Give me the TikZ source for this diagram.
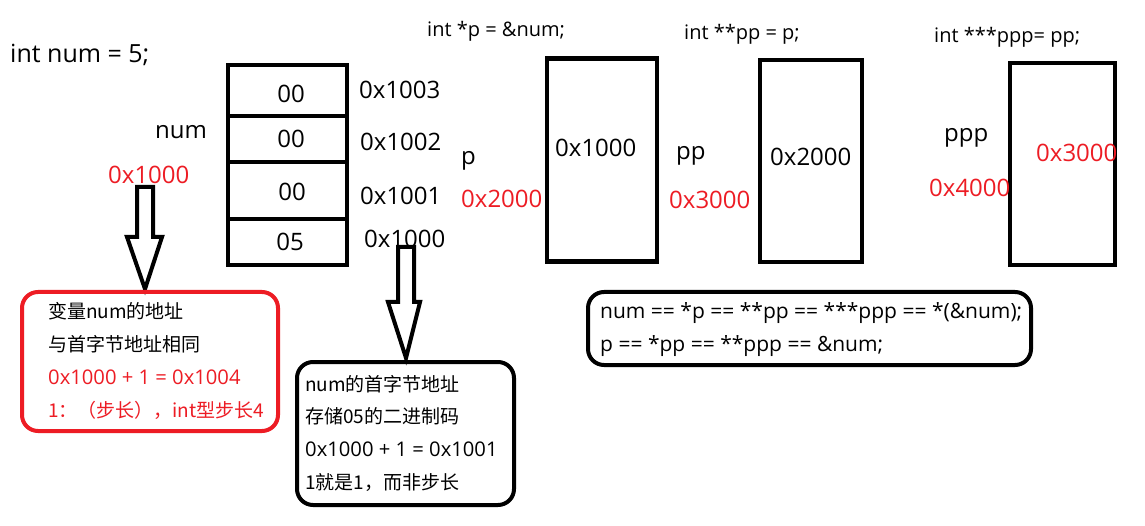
\documentclass[tikz,border=0pt]{standalone}
\usepackage{fontspec}
\setmainfont{Open Sans}
\newfontfamily\cjk{Noto Sans CJK SC}
\definecolor{pred}{RGB}{237,28,36}
\begin{document}
\begin{tikzpicture}[x=1pt,y=-1pt,
  big/.style={inner sep=0pt,anchor=west,font=\fontsize{24}{28}\selectfont},
  small/.style={inner sep=0pt,anchor=west,font=\fontsize{20}{24}\selectfont},
  boxtxt/.style={inner sep=0pt,anchor=west,font=\fontsize{20.2}{24}\selectfont},
  cjktxt/.style={inner sep=0pt,anchor=west,font=\cjk\fontsize{19}{22}\selectfont},
  cell/.style={draw,line width=4pt,inner sep=0pt,minimum width=119pt},
  ptrbox/.style={draw,line width=4.5pt,inner sep=0pt},
  rbox/.style={draw,line width=4pt,rounded corners=16pt,inner sep=0pt},
  hollow/.style={draw,line width=4pt,fill=white}]
\useasboundingbox[fill=white] (0,0) rectangle (1145,526);

% declaration
\node[big,font=\fontsize{25}{30}\selectfont] (decl) at (10,55) {int num = 5;};

% memory cells
\node[cell,minimum height=51pt] (c3) at (287.5,90.5) {};
\node[cell,minimum height=46pt] (c2) at (287.5,139) {};
\node[cell,minimum height=57pt] (c1) at (287.5,190.5) {};
\node[cell,minimum height=46pt] (c0) at (287.5,242) {};
\node[big,anchor=center] (v3) at (291,94) {00};
\node[big,anchor=center] (v2) at (291,139) {00};
\node[big,anchor=center] (v1) at (292,192) {00};
\node[big,anchor=center] (v0) at (290,242) {05};

\node[big] (a3) at (359,90) {0x1003};
\node[big] (a2) at (360,142) {0x1002};
\node[big] (a1) at (360,196) {0x1001};
\node[big] (a0) at (364,239) {0x1000};

\node[big] (numlbl) at (155,132) {num};
\node[big,text=pred] (numaddr) at (108,175) {0x1000};

% pointer declarations
\node[small] (dp) at (427,31) {int *p = \&num;};
\node[small] (dpp) at (684,34) {int **pp = p;};
\node[small] (dppp) at (934,37) {int ***ppp= pp;};

% pointer boxes
\node[ptrbox,minimum width=110pt,minimum height=203pt] (pbox) at (602,160) {};
\node[ptrbox,minimum width=102pt,minimum height=202pt] (ppbox) at (811,161) {};
\node[ptrbox,minimum width=105pt,minimum height=202pt] (pppbox) at (1062.5,164) {};

\node[big] (pval) at (555,148) {0x1000};
\node[big] (ppval) at (770,157) {0x2000};
\node[big,text=pred] (pppval) at (1036,153) {0x3000};

\node[big] (plbl) at (461,161) {p};
\node[big,text=pred] (paddr) at (461,199) {0x2000};
\node[big] (pplbl) at (676,156) {pp};
\node[big,text=pred] (ppaddr) at (669,200) {0x3000};
\node[big] (ppplbl) at (944,138) {ppp};
\node[big,text=pred] (pppaddr) at (929,188) {0x4000};

% hollow arrows
\draw[hollow] (137,187) -- (153,187) -- (153,237) -- (162,237) -- (145,289)
  -- (127,237) -- (137,237) -- cycle;
\draw[hollow] (398,247) -- (414,247) -- (414,302) -- (420,302) -- (406,358)
  -- (388,302) -- (398,302) -- cycle;

% red box
\node[rbox,draw=pred,minimum width=256pt,minimum height=139pt] (redbox) at (150,361.5) {};
\node[cjktxt] (r1) at (48,311) {变量num的地址};
\node[cjktxt] (r2) at (48,344) {与首字节地址相同};
\node[boxtxt,text=pred] (r3) at (48,377) {0x1000 + 1 = 0x1004};
\node[cjktxt,text=pred] (r4) at (48,410) {1：（步长），int型步长4};

% black box 2
\node[rbox,minimum width=217pt,minimum height=143pt] (bbox) at (405.5,433.5) {};
\node[cjktxt] (b1) at (305,384) {num的首字节地址};
\node[cjktxt] (b2) at (305,416) {存储05的二进制码};
\node[boxtxt] (b3) at (305,449) {0x1000 + 1 = 0x1001};
\node[cjktxt] (b4) at (305,483) {1就是1，而非步长};

% black box 3
\node[rbox,minimum width=443pt,minimum height=73pt] (ebox) at (809.5,328.5) {};
\node[boxtxt,font=\fontsize{21}{24}\selectfont] (e1) at (600,313) {num == *p == **pp == ***ppp == *(\&num);};
\node[boxtxt,font=\fontsize{21}{24}\selectfont] (e2) at (600,346) {p == *pp == **ppp == \&num;};
\end{tikzpicture}
\end{document}
